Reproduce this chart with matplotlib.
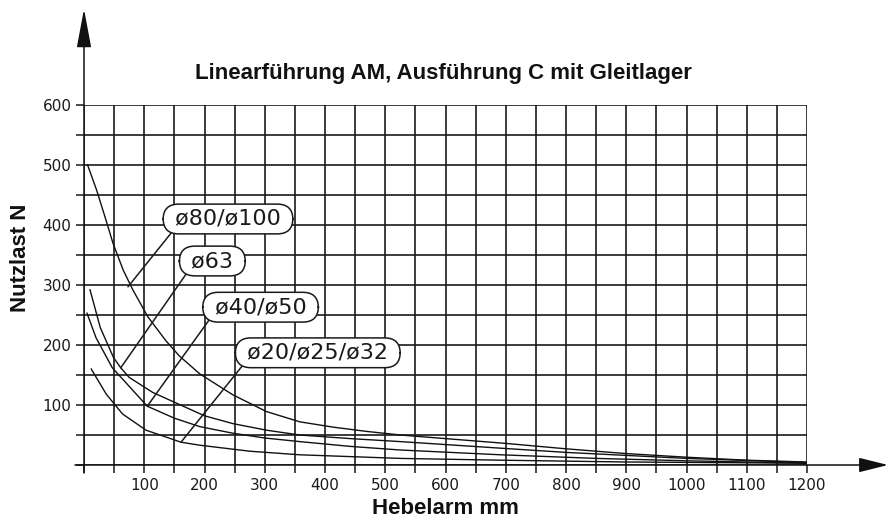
import numpy as np
import matplotlib.pyplot as plt
from matplotlib.ticker import MultipleLocator, FuncFormatter

# Hebelarm (mm) / Nutzlast (N)
x_d80 = [6, 21, 35, 48, 65, 81, 106, 136, 158, 192, 247, 303, 358, 414, 469, 525, 600, 700, 800, 900, 1000, 1100, 1200]
y_d80 = [500, 458, 413, 370, 325, 292, 247, 207, 182, 152, 117, 89, 72, 63, 56, 50, 44, 36, 27, 19, 13, 8, 5]

x_d63 = [10, 27, 49, 61, 75, 114, 158, 200, 247, 303, 358, 442, 525, 692, 800, 1000, 1200]
y_d63 = [292, 229, 179, 162, 146, 121, 101, 82, 69, 58, 50, 44, 39, 28, 21, 11, 4]

x_d40 = [5, 20, 47, 105, 150, 192, 247, 300, 358, 442, 525, 692, 850, 1000, 1200]
y_d40 = [253, 212, 162, 98, 78, 64, 53, 45, 39, 31, 25, 17, 11, 7, 3]

x_d20 = [12, 37, 64, 103, 161, 192, 275, 358, 525, 692, 900, 1200]
y_d20 = [160, 118, 85, 58, 38, 33, 23, 17, 11, 8, 5, 3]

labels = ['ø80/ø100', 'ø63', 'ø40/ø50', 'ø20/ø25/ø32']
# Punkt auf der Kurve, an dem die Bezugslinie endet
anchor_x = [73, 61, 105, 161]
anchor_y = [297, 162, 98, 38]

title = 'Linearführung AM, Ausführung C mit Gleitlager'
xlabel = 'Hebelarm mm'
ylabel = 'Nutzlast N'

W, H = 891, 523
x0, x1, y0, y1 = 84, 807, 465, 105

fig = plt.figure(figsize=(W / 100, H / 100), dpi=100)
fig.patch.set_facecolor('white')
ax = fig.add_axes([x0 / W, (H - y0) / H, (x1 - x0) / W, (y0 - y1) / H])
ax.set_xlim(0, 1200)
ax.set_ylim(0, 600)
for s in ax.spines.values():
    s.set_visible(False)

ax.xaxis.set_major_locator(MultipleLocator(100))
ax.xaxis.set_minor_locator(MultipleLocator(50))
ax.yaxis.set_major_locator(MultipleLocator(100))
ax.yaxis.set_minor_locator(MultipleLocator(50))
blank0 = FuncFormatter(lambda v, p: '' if v == 0 else f'{int(v)}')
ax.xaxis.set_major_formatter(blank0)
ax.yaxis.set_major_formatter(blank0)
ax.tick_params(which='both', direction='out', length=6, width=1.1, color='#1a1a1a')
ax.tick_params(axis='both', which='major', pad=3, labelsize=11, labelcolor='#1a1a1a')
ax.grid(True, which='both', color='#1a1a1a', linewidth=1.2)
ax.set_axisbelow(True)

for xs, ys in [(x_d80, y_d80), (x_d63, y_d63), (x_d40, y_d40), (x_d20, y_d20)]:
    ax.plot(xs, ys, color='#111111', linewidth=1.0, zorder=3)

# Beschriftungsblasen
text_pos = [(239, 410), (213, 340), (293, 263), (388, 187)]
relpos = [(0.08, 0.2), (0.12, 0.2), (0.06, 0.2), (0.05, 0.2)]
for lab, ax_, ay_, tp, rp in zip(labels, anchor_x, anchor_y, text_pos, relpos):
    ax.annotate(' ' + lab + ' ', xy=(ax_, ay_), xytext=tp, ha='center', va='center',
                fontsize=16, family='DejaVu Sans', color='#1a1a1a', zorder=5,
                bbox=dict(boxstyle='round,pad=0.22,rounding_size=0.7',
                          fc='white', ec='#1a1a1a', lw=1.1),
                arrowprops=dict(arrowstyle='-', color='#1a1a1a', lw=1.1,
                                shrinkA=0, shrinkB=0, relpos=rp))

# Achsen mit Pfeilen
fx = lambda px: (px - x0) / (x1 - x0)
fy = lambda py: (y0 - py) / (y0 - y1)
ax.annotate('', xy=(fx(888), 0), xytext=(fx(75), 0), xycoords='axes fraction',
            annotation_clip=False,
            arrowprops=dict(arrowstyle='-|>,head_length=18,head_width=4.5',
                            mutation_scale=1, color='#111111', lw=1.1,
                            shrinkA=0, shrinkB=0))
ax.annotate('', xy=(0, fy(9)), xytext=(0, fy(473)), xycoords='axes fraction',
            annotation_clip=False,
            arrowprops=dict(arrowstyle='-|>,head_length=24,head_width=4.5',
                            mutation_scale=1, color='#111111', lw=1.1,
                            shrinkA=0, shrinkB=0))

fig.text(443 / W, 1 - 73 / H, title, ha='center', va='center',
         fontsize=16, fontweight='bold', family='Liberation Sans', color='#111111')
fig.text(445 / W, 1 - 509 / H, xlabel, ha='center', va='center',
         fontsize=16, fontweight='bold', family='Liberation Sans', color='#111111')
fig.text(21 / W, 1 - 258 / H, ylabel, ha='center', va='center', rotation=90,
         fontsize=16, fontweight='bold', family='Liberation Sans', color='#111111')

fig.savefig('out.png', dpi=100)
